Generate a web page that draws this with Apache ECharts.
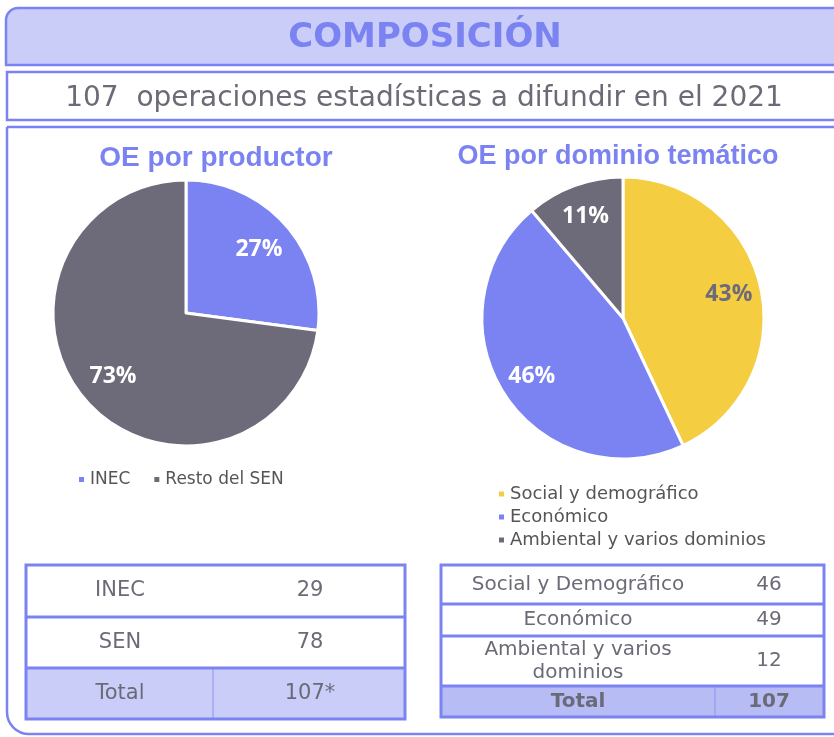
<!DOCTYPE html>
<html>
<head>
<meta charset="utf-8">
<script src="https://cdn.jsdelivr.net/npm/echarts@6/dist/echarts.min.js"></script>
<style>
  html,body{margin:0;padding:0;background:#fff;}
  #main{width:834px;height:737px;}
</style>
</head>
<body>
<div id="main"></div>
<script>
// datos
const productorNames=['INEC','Resto del SEN']
const productorValues=[29,78]
const dominioNames=['Social y demográfico','Económico','Ambiental y varios dominios']
const dominioValues=[46,49,12]
const tablaProdLabels=['INEC','SEN','Total']
const tablaProdValues=['29','78','107*']
const tablaDomLabels=['Social y Demográfico','Económico','Ambiental y varios\ndominios','Total']
const tablaDomValues=['46','49','12','107']

const azul='#7b83f2'
const gris='#6d6b79'
const amarillo='#f4cd41'
const lila='#cacdf8'
const texto='#6b6b78'
const fuente='Liberation Sans'
const fuente2='DejaVu Sans'

let chart=echarts.init(document.getElementById('main'))

function pct(p){ return Math.round(p.percent)+'%' }

// tablas
function tabla(x,w,rowsY,labels,values,colX,divX,boldLast,fillLast,fs){
  let els=[]
  let last=rowsY.length-2
  els.push({type:'rect',shape:{x:x,y:rowsY[last],width:w,height:rowsY[last+1]-rowsY[last]},style:{fill:fillLast}})
  els.push({type:'line',shape:{x1:divX,y1:rowsY[last],x2:divX,y2:rowsY[last+1]},style:{stroke:'#8e94f2',lineWidth:1}})
  for(let i=1;i<rowsY.length-1;i++){
    els.push({type:'line',shape:{x1:x,y1:rowsY[i],x2:x+w,y2:rowsY[i]},style:{stroke:azul,lineWidth:3}})
  }
  els.push({type:'rect',shape:{x:x,y:rowsY[0],width:w,height:rowsY[rowsY.length-1]-rowsY[0]},style:{fill:'none',stroke:azul,lineWidth:3}})
  for(let i=0;i<labels.length;i++){
    let cy=(rowsY[i]+rowsY[i+1])/2
    let b=(boldLast&&i==labels.length-1)?'bold':'normal'
    els.push({type:'text',x:colX[0],y:cy,style:{text:labels[i],fill:texto,font:b+' '+fs+'px '+fuente2,align:'center',verticalAlign:'middle',lineHeight:fs+3}})
    els.push({type:'text',x:colX[1],y:cy,style:{text:values[i],fill:texto,font:b+' '+fs+'px '+fuente2,align:'center',verticalAlign:'middle'}})
  }
  return els
}

let graphics=[
  // cabecera
  {type:'rect',shape:{x:6,y:8,width:900,height:57,r:[12,0,0,0]},style:{fill:lila,stroke:azul,lineWidth:2.5}},
  {type:'text',x:425,y:38,style:{text:'COMPOSICIÓN',fill:azul,font:'bold 34px '+fuente2,align:'center',verticalAlign:'middle'}},
  {type:'rect',shape:{x:7,y:72,width:900,height:48},style:{fill:'#fff',stroke:azul,lineWidth:2.5}},
  {type:'text',x:424,y:99,style:{text:'107  operaciones estadísticas a difundir en el 2021',fill:texto,font:'28px '+fuente2,align:'center',verticalAlign:'middle'}},
  {type:'rect',shape:{x:7,y:127,width:900,height:607,r:[0,0,0,22]},style:{fill:'none',stroke:azul,lineWidth:2.5}},
  {type:'text',x:216,y:158,style:{text:'OE por productor',fill:azul,font:'bold 28px '+fuente,align:'center',verticalAlign:'middle'}},
  {type:'text',x:618,y:157,style:{text:'OE por dominio temático',fill:azul,font:'bold 27px '+fuente,align:'center',verticalAlign:'middle'}}
]
graphics=graphics.concat(
  tabla(26,379,[565,617,668,719],tablaProdLabels,tablaProdValues,[120,310],213,false,lila,21),
  tabla(441,383,[565,604,636,686,717],tablaDomLabels,tablaDomValues,[578,769],715,true,'#b8bcf5',20)
)

let prodData=productorNames.map((n,i)=>({name:n,value:productorValues[i],itemStyle:{color:[azul,gris][i]}}))
let domData=dominioNames.map((n,i)=>({name:n,value:dominioValues[i],itemStyle:{color:[amarillo,azul,gris][i]},
  label:{color:i==0?gris:'#fff'}}))

let options={
  animation:false,
  graphic:{elements:graphics},
  legend:[
    {data:productorNames,left:72,top:466,icon:'rect',itemWidth:7,itemHeight:7,itemGap:22,
      textStyle:{color:'#555',fontSize:17,fontFamily:fuente2}},
    {data:dominioNames,orient:'vertical',left:492,top:480,icon:'rect',itemWidth:7,itemHeight:7,itemGap:5,
      textStyle:{color:'#555',fontSize:18,fontFamily:fuente2}}
  ],
  series:[
    {type:'pie',center:[186,313],radius:[0,133],startAngle:90,clockwise:true,data:prodData,
      itemStyle:{borderColor:'#fff',borderWidth:3},label:{show:false},labelLine:{show:false},silent:true},
    {type:'pie',center:[186,313],radius:[55,133],startAngle:90,data:prodData.map(d=>({name:d.name,value:d.value,itemStyle:{color:'transparent'}})),
      label:{show:true,position:'inside',formatter:pct,color:'#fff',fontSize:23,fontWeight:'bold',fontFamily:'Open Sans'},silent:true},
    {type:'pie',center:[623,318],radius:[0,141],startAngle:90,clockwise:true,data:domData,
      itemStyle:{borderColor:'#fff',borderWidth:3},label:{show:false},labelLine:{show:false},silent:true},
    {type:'pie',center:[623,318],radius:[70,141],startAngle:90,data:domData.map(d=>({name:d.name,value:d.value,itemStyle:{color:'transparent'},label:d.label})),
      label:{show:true,position:'inside',formatter:pct,fontSize:23,fontWeight:'bold',fontFamily:'Open Sans'},silent:true}
  ]
}
chart.setOption(options)
</script>
</body>
</html>
